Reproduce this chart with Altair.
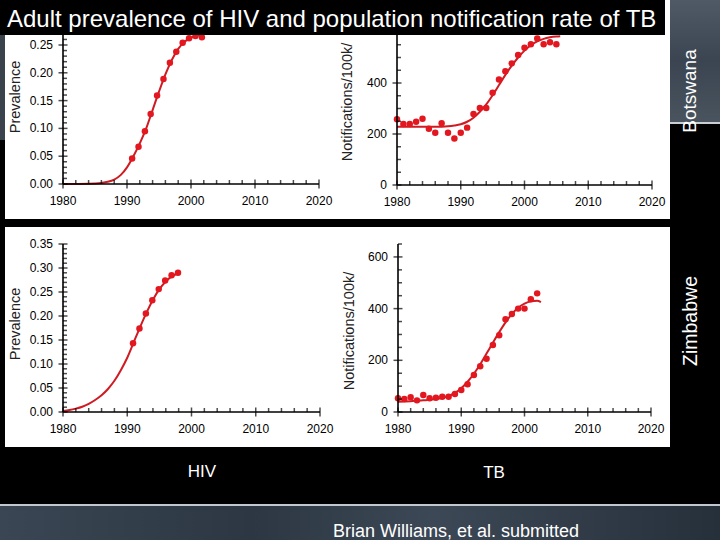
import altair as alt
import pandas as pd

W, H = 720, 540
FONT = "Liberation Sans, Arial, sans-serif"
RED_PT = "#e3171f"
RED_LN = "#cf1b22"

# ---- Botswana: adult HIV prevalence ----
bw_hiv_year = [1990.8, 1991.8, 1992.8, 1993.7, 1994.7, 1995.7, 1996.7, 1997.7, 1998.7, 1999.7, 2000.7, 2001.7]
bw_hiv_prev = [0.046, 0.067, 0.095, 0.126, 0.159, 0.189, 0.218, 0.238, 0.254, 0.262, 0.266, 0.264]
bw_hiv_fit_year = [1980, 1984, 1986, 1987, 1988, 1989, 1990, 1991, 1992, 1993, 1994, 1995, 1996, 1997, 1998, 1999, 2000, 2001, 2002]
bw_hiv_fit = [0.000, 0.0005, 0.002, 0.004, 0.008, 0.016, 0.030, 0.050, 0.073, 0.100, 0.133, 0.166, 0.197, 0.223, 0.243, 0.256, 0.263, 0.267, 0.268]

# ---- Botswana: TB notifications per 100k ----
bw_tb_year = list(range(1980, 2006))
bw_tb_rate = [258, 239, 239, 248, 260, 221, 205, 242, 205, 182, 205, 225, 278,
              302, 302, 362, 414, 446, 477, 510, 538, 552, 575, 552, 560, 552]
bw_tb_fit_year = [1980, 1982, 1984, 1986, 1988, 1989, 1990, 1991, 1992, 1993, 1994, 1995,
                  1996, 1997, 1998, 1999, 2000, 2001, 2002, 2003, 2004, 2005, 2005.6]
bw_tb_fit = [228, 228, 228, 228, 230, 233, 238, 248, 264, 287, 316, 352,
             392, 432, 468, 500, 527, 548, 563, 573, 579, 582, 583]

# ---- Zimbabwe: adult HIV prevalence ----
zw_hiv_year = [1990.9, 1991.9, 1992.9, 1993.9, 1994.9, 1995.9, 1996.9, 1997.9]
zw_hiv_prev = [0.143, 0.174, 0.205, 0.233, 0.256, 0.274, 0.285, 0.290]
zw_hiv_fit_year = [1980, 1981, 1982, 1983, 1984, 1985, 1986, 1987, 1988, 1989,
                   1990, 1991, 1992, 1993, 1994, 1995, 1996, 1997, 1998]
zw_hiv_fit = [0.002, 0.004, 0.007, 0.011, 0.017, 0.025, 0.035, 0.048, 0.065, 0.087,
              0.113, 0.145, 0.177, 0.207, 0.234, 0.256, 0.272, 0.283, 0.289]

# ---- Zimbabwe: TB notifications per 100k ----
zw_tb_year = list(range(1980, 2003))
zw_tb_rate = [53, 50, 57, 45, 66, 53, 55, 59, 59, 70, 85, 107, 143, 177, 206, 259,
              297, 359, 379, 400, 400, 436, 459]
zw_tb_fit_year = [1980, 1982, 1984, 1986, 1987, 1988, 1989, 1990, 1991, 1992, 1993,
                  1994, 1995, 1996, 1997, 1998, 1999, 2000, 2001, 2002, 2002.6]
zw_tb_fit = [40, 42, 45, 50, 55, 62, 74, 92, 117, 148, 185, 226, 268, 309, 347,
             379, 403, 419, 428, 430, 425]

# ---- axis tick values ----
year_major = [1980, 1990, 2000, 2010, 2020]
year_minor = [y for y in range(1982, 2020, 2) if y % 10 != 0]
prev_major_bw = [0.00, 0.05, 0.10, 0.15, 0.20, 0.25]
prev_major_zw = [0.00, 0.05, 0.10, 0.15, 0.20, 0.25, 0.30, 0.35]
prev_minor_bw = [round(i / 100, 2) for i in range(1, 27) if i % 5 != 0]
prev_minor_zw = [round(i / 100, 2) for i in range(1, 36) if i % 5 != 0]
rate_major_bw = [0, 200, 400]
rate_minor_bw = [v for v in range(50, 551, 50) if v % 200 != 0]
rate_major_zw = [0, 200, 400, 600]
rate_minor_zw = [v for v in range(50, 651, 50) if v % 200 != 0]

one = pd.DataFrame({"k": [0]})


def box(x, x2, y, y2, fill):
    return alt.Chart(one).mark_rect(color=fill, strokeWidth=0).encode(
        x=alt.value(x), x2=alt.value(x2), y=alt.value(y), y2=alt.value(y2))


def label(text, x, y, size, color="black", angle=0, align="center", baseline="middle"):
    return alt.Chart(one).mark_text(
        text=text, font=FONT, fontSize=size, color=color, angle=angle,
        align=align, baseline=baseline).encode(x=alt.value(x), y=alt.value(y))


def panel(xr, yr, ydom, pts_x, pts_y, fit_x, fit_y, y_major, y_minor, y_fmt):
    xsc = alt.Scale(domain=[1980, 2020], range=xr, nice=False, zero=False)
    ysc = alt.Scale(domain=ydom, range=yr, nice=False, zero=False)

    def X(field):
        return alt.X(field, type="quantitative", scale=xsc, axis=None)

    def Y(field):
        return alt.Y(field, type="quantitative", scale=ysc, axis=None)

    fit = alt.Chart(pd.DataFrame({"year": fit_x, "v": fit_y})).mark_line(
        color=RED_LN, strokeWidth=2, interpolate="monotone").encode(x=X("year"), y=Y("v"))
    pts = alt.Chart(pd.DataFrame({"year": pts_x, "v": pts_y})).mark_circle(
        color=RED_PT, size=42, opacity=1).encode(x=X("year"), y=Y("v"))

    # axis lines
    frame = pd.DataFrame({"x0": [1980], "x1": [2020], "y0": [ydom[0]], "y1": [ydom[1]]})
    x_line = alt.Chart(frame).mark_rule(color="black", strokeWidth=1.6).encode(
        x=X("x0"), x2=alt.X2("x1"), y=Y("y0"))
    y_line = alt.Chart(frame).mark_rule(color="black", strokeWidth=1.6).encode(
        x=X("x0"), y=Y("y0"), y2=alt.Y2("y1"))

    # ticks: major ticks cross the axis, minor ticks point inwards
    def xticks(vals, size, shift):
        df = pd.DataFrame({"t": vals, "base": ydom[0]})
        return alt.Chart(df).mark_tick(orient="vertical", size=size, thickness=1.5,
                                       yOffset=shift, color="black").encode(
            x=X("t"), y=Y("base"))

    def yticks(vals, size, shift):
        df = pd.DataFrame({"t": vals, "base": 1980})
        return alt.Chart(df).mark_tick(orient="horizontal", size=size, thickness=1.5,
                                       xOffset=shift, color="black").encode(
            x=X("base"), y=Y("t"))

    # tick labels
    xl = pd.DataFrame({"t": year_major, "base": ydom[0], "txt": [str(v) for v in year_major]})
    x_labels = alt.Chart(xl).mark_text(font=FONT, fontSize=12, color="black",
                                       baseline="top", dy=12).encode(
        x=X("t"), y=Y("base"), text="txt:N")
    yl = pd.DataFrame({"t": y_major, "base": 1980, "txt": [format(v, y_fmt) for v in y_major]})
    y_labels = alt.Chart(yl).mark_text(font=FONT, fontSize=12, color="black",
                                       align="right", baseline="middle", dx=-10).encode(
        x=X("base"), y=Y("t"), text="txt:N")

    return alt.layer(fit, pts, x_line, y_line,
                     xticks(year_major, 9, 0), xticks(year_minor, 4, -2),
                     yticks(y_major, 9, 0), yticks(y_minor, 4, 2),
                     x_labels, y_labels)


strip_grad = alt.Gradient(gradient="linear", x1=0, x2=0, y1=0, y2=1, stops=[
    alt.GradientStop(color="#505a66", offset=0),
    alt.GradientStop(color="#3b4551", offset=0.5),
    alt.GradientStop(color="#4a545f", offset=1)])
band_grad = alt.Gradient(gradient="linear", x1=0, x2=1, y1=0, y2=0, stops=[
    alt.GradientStop(color="#3a4653", offset=0),
    alt.GradientStop(color="#2c3743", offset=0.35),
    alt.GradientStop(color="#3d4856", offset=0.6),
    alt.GradientStop(color="#26303b", offset=1)])

# the Botswana plot areas run up under the title bar
BW_PREV_TOP = (184 - 35) / 556
BW_RATE_TOP = (185 - 35) / 0.255

layers = [
    box(0, W, 0, H, "black"),
    box(5, 670, 0, 219, "white"),
    box(5, 670, 227, 447, "white"),
    box(0, 5, 35, 140, "#3a424c"),
    box(670, W, 0, 122, strip_grad),
    box(670, W, 122, 124, "#c9ced4"),
    box(0, W, 504, 506, "#c0c7ce"),
    box(0, W, 506, H, band_grad),
    panel([63, 319], [184, 35], [0, BW_PREV_TOP],
          bw_hiv_year, bw_hiv_prev, bw_hiv_fit_year, bw_hiv_fit,
          prev_major_bw, prev_minor_bw, ".2f"),
    panel([397, 652], [185, 35], [0, BW_RATE_TOP],
          bw_tb_year, bw_tb_rate, bw_tb_fit_year, bw_tb_fit,
          rate_major_bw, rate_minor_bw, "d"),
    panel([63, 320], [412, 244], [0, 0.35],
          zw_hiv_year, zw_hiv_prev, zw_hiv_fit_year, zw_hiv_fit,
          prev_major_zw, prev_minor_zw, ".2f"),
    panel([398, 651], [412, 244], [0, 650],
          zw_tb_year, zw_tb_rate, zw_tb_fit_year, zw_tb_fit,
          rate_major_zw, rate_minor_zw, "d"),
    box(0, 665, 0, 35, "black"),
    label("Adult prevalence of HIV and population notification rate of TB", 7, 27, 24,
          color="white", align="left", baseline="alphabetic"),
    label("Prevalence", 16, 97, 14.5, color="#222222", angle=270),
    label("Notifications/100k/", 348, 102, 14.5, color="#222222", angle=270),
    label("Prevalence", 16, 324, 14.5, color="#222222", angle=270),
    label("Notifications/100k/", 350, 331, 14.5, color="#222222", angle=270),
    label("Botswana", 690, 91, 19, color="white", angle=270),
    label("Zimbabwe", 691, 321, 19.5, color="white", angle=270),
    label("HIV", 202, 472, 17, color="white"),
    label("TB", 494, 473, 17, color="white"),
    label("Brian Williams, et al. submitted", 456, 537, 18, color="white",
          baseline="alphabetic"),
]

chart = alt.layer(*layers).resolve_scale(
    x="independent", y="independent"
).properties(
    width=W, height=H, padding=0, background="black",
    autosize=alt.AutoSizeParams(type="none"),
).configure_view(
    strokeOpacity=0
)

chart.save("out.html", embed_options={"renderer": "svg", "actions": False})
